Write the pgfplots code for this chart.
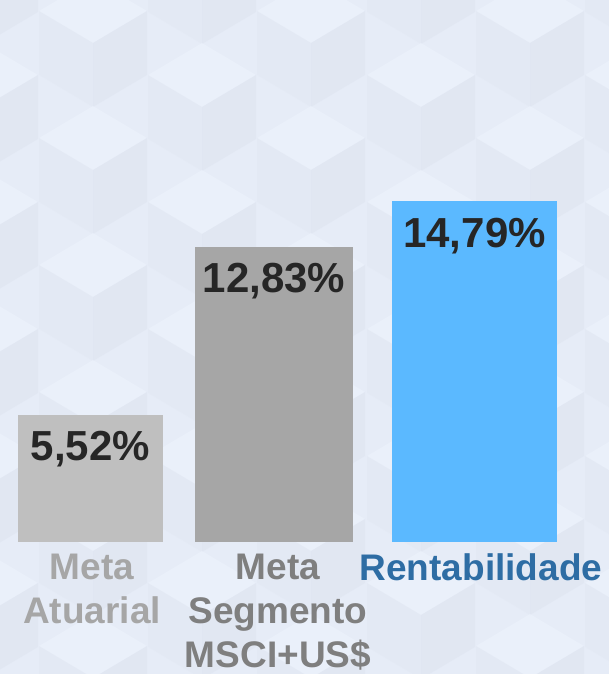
\documentclass[border=0pt]{standalone}
\usepackage{pgfplots}
\pgfplotsset{compat=1.18}
\usepackage{fontspec}
\setmainfont{Liberation Sans}
\definecolor{bg}{HTML}{E6ECF7}
\definecolor{ctop}{HTML}{EEF4FD}
\definecolor{cleft}{HTML}{E2E8F3}
\definecolor{cright}{HTML}{DDE3EF}
\definecolor{barA}{HTML}{BFBFBF}
\definecolor{barB}{HTML}{A6A6A6}
\definecolor{barC}{HTML}{5BB9FF}
\definecolor{valtxt}{HTML}{262626}
\definecolor{labA}{HTML}{A6A6A6}
\definecolor{labB}{HTML}{7F7F7F}
\definecolor{labC}{HTML}{2E6DA4}
\newcommand\cube[2]{% #1 = x centre, #2 = y of top-face centre (image px, downward)
  \pgfmathsetmacro\cyT{542-#2}
  \fill[ctop] (#1-54,\cyT) -- (#1,\cyT+32) -- (#1+54,\cyT) -- (#1,\cyT-32) -- cycle;
  \fill[cleft] (#1-54,\cyT) -- (#1,\cyT-32) -- (#1,\cyT-96) -- (#1-54,\cyT-64) -- cycle;
  \fill[cright] (#1,\cyT-32) -- (#1+54,\cyT) -- (#1+54,\cyT-64) -- (#1,\cyT-96) -- cycle;
}
\begin{document}
\begin{tikzpicture}[x=1pt,y=1pt]
\path[use as bounding box] (0,-132) rectangle (609,542);
\begin{scope}
\clip (0,-132) rectangle (609,542);
\fill[bg] (0,-132) rectangle (609,542);
\begin{scope}[opacity=0.5]
\foreach \j in {-1,...,5}{
  \foreach \cx in {93,311,530}{\pgfmathsetmacro\cy{11+127*\j}\cube{\cx}{\cy}}
  \foreach \cx in {-16,202,421,639}{\pgfmathsetmacro\cy{75+127*\j}\cube{\cx}{\cy}}
}
\end{scope}
\end{scope}
\begin{axis}[
  at={(0,0)}, anchor=south west,
  scale only axis, width=609pt, height=542pt,
  xmin=0, xmax=609, ymin=0, ymax=23.54,
  axis line style={draw=none}, tick style={draw=none},
  ytick=\empty,
  xtick={92,278,481},
  xticklabels={{\color{labA}Meta\\\color{labA}Atuarial},{\color{labB}Meta\\\color{labB}Segmento\\\color{labB}MSCI+US\$},{\color{labC}Rentabilidade}},
  xticklabel style={align=center, font=\fontsize{37}{44}\selectfont\bfseries, yshift=-4pt},
  ybar, bar shift=0pt,
  nodes near coords={\pgfmathprintnumber[fixed,fixed zerofill,precision=2,use comma,assume math mode=true]{\pgfplotspointmeta}\%},
  every node near coord/.append style={anchor=north, yshift=-13pt, text=valtxt, font=\fontsize{42}{48}\selectfont\bfseries},
  clip=false,
]
\addplot[fill=barA, draw=none, bar width=145pt] coordinates {(90.5,5.52)};
\addplot[fill=barB, draw=none, bar width=158pt] coordinates {(274,12.83)};
\addplot[fill=barC, draw=none, bar width=165pt] coordinates {(474.5,14.79)};
\end{axis}
\end{tikzpicture}
\end{document}
